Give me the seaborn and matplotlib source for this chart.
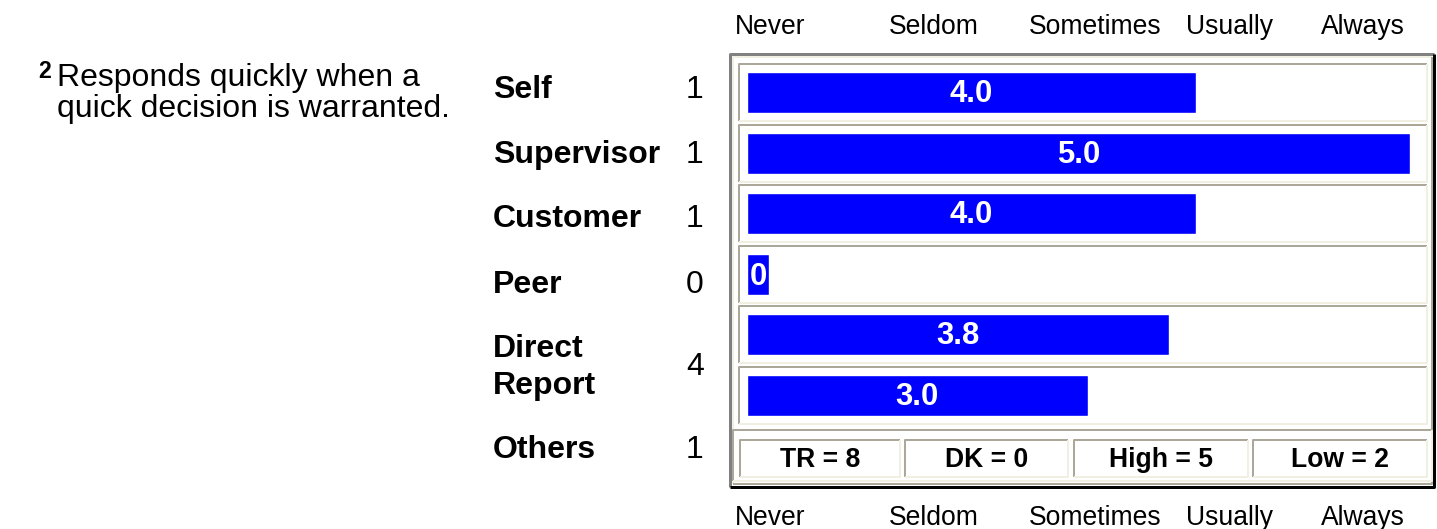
import numpy as np
import pandas as pd
import matplotlib
matplotlib.use("Agg")
import matplotlib.pyplot as plt
import seaborn as sns

# ---- data ----
item_no = "2"
item_text = ["Responds quickly when a", "quick decision is warranted."]
groups = ["Self", "Supervisor", "Customer", "Peer", "Direct\nReport", "Others"]
counts = [1, 1, 1, 0, 4, 1]
bar_groups = ["Self", "Supervisor", "Customer", "Peer", "Direct Report", "Others"]
bar_labels = ["4.0", "5.0", "4.0", "0", "3.8", "3.0"]
# bar length as % of the full (Always) track
bar_length = [67.7, 100, 67.7, 3.3, 63.6, 51.4]
scale_labels = ["Never", "Seldom", "Sometimes", "Usually", "Always"]
footer = ["TR = 8", "DK = 0", "High = 5", "Low = 2"]

W, H = 1437, 529
sns.set_style("white")
plt.rcParams["font.family"] = ["Liberation Sans", "DejaVu Sans"]
plt.rcParams["text.color"] = "black"
PT = 0.72  # px -> pt at dpi 100

fig = plt.figure(figsize=(W / 100, H / 100), dpi=100)

# background axes in pixel units for the table decoration
bg = fig.add_axes([0, 0, 1, 1])
bg.set_xlim(0, W)
bg.set_ylim(H, 0)
bg.axis("off")

GRAY = "#aca899"
LIGHT = "#f1efe2"


def bevel(x0, y0, x1, y1, dark, light, lw):
    bg.plot([x0, x0, x1], [y1, y0, y0], color=dark, lw=lw * PT, solid_capstyle="butt")
    bg.plot([x0, x1, x1], [y1, y1, y0], color=light, lw=lw * PT, solid_capstyle="butt")


# outer frame
bevel(729.5, 54, 1434, 486.5, "#808080", "#000000", 3)
bevel(732.5, 57, 1431.5, 483.5, LIGHT, GRAY, 2)

# one cell per bar row
row_top, row_pitch, row_h = 64, 60.5, 57
for i in range(len(bar_groups)):
    t = row_top + i * row_pitch
    bevel(739, t, 1427, t + row_h, GRAY, LIGHT, 2)

# footer band
bevel(732.5, 430, 1431.5, 481, GRAY, LIGHT, 2)
cells = [(740, 900), (905, 1068), (1074, 1248), (1253, 1427)]
for (a, b), txt in zip(cells, footer):
    bevel(a, 440, b, 477, GRAY, LIGHT, 2)
    bg.text((a + b) / 2, 467, txt, ha="center", va="baseline",
            fontsize=26.5 * PT, fontweight="bold")

# scale labels top and bottom
scale_x = [770, 934, 1095, 1230, 1363]
for x, s in zip(scale_x, scale_labels):
    bg.text(x, 34, s, ha="center", va="baseline", fontsize=26.5 * PT)
    bg.text(x, 525, s, ha="center", va="baseline", fontsize=26.5 * PT)

# item number and statement
bg.text(38, 78, item_no, ha="left", va="baseline", fontsize=23 * PT, fontweight="bold")
bg.text(57, 86, item_text[0], ha="left", va="baseline", fontsize=32 * PT)
bg.text(57, 117, item_text[1], ha="left", va="baseline", fontsize=32 * PT)

# rater groups and counts
label_base = [98, 163, 227, 293, 357, 458]
count_base = [98, 163, 227, 293, 375, 458]
for g, yb, n, yc in zip(groups, label_base, counts, count_base):
    bg.text(493, yb, g.split("\n")[0], ha="left", va="baseline",
            fontsize=32 * PT, fontweight="bold")
    if "\n" in g:
        bg.text(493, yb + 37, g.split("\n")[1], ha="left", va="baseline",
                fontsize=32 * PT, fontweight="bold")
    bg.text(695, yc, str(n), ha="center", va="baseline", fontsize=32 * PT)

# bar axes: x 0..100 maps to 747..1410 px, one unit of y per row
y0 = row_top - (row_pitch - row_h) / 2
y1 = y0 + row_pitch * len(bar_groups)
ax = fig.add_axes([747 / W, 1 - y1 / H, (1410 - 747) / W, (y1 - y0) / H])
ax.set_facecolor("none")

df = pd.DataFrame({"group": bar_groups, "length": bar_length, "label": bar_labels})
sns.barplot(data=df, x="length", y="group", orient="h", color="#0000ff",
            saturation=1, width=41 / row_pitch, ax=ax)
ax.set_xlim(0, 100)
ax.set_ylim(len(bar_groups) - 0.5, -0.5)
ax.axis("off")

for i, row in df.iterrows():
    if row["length"] < 10:
        ax.text(0.4, i + 0.19, row["label"], ha="left", va="baseline",
                fontsize=31 * PT, fontweight="bold", color="white")
    else:
        ax.text(row["length"] / 2, i + 0.16, row["label"], ha="center", va="baseline",
                fontsize=31 * PT, fontweight="bold", color="white")

fig.savefig("out.png", dpi=100, facecolor="white")
